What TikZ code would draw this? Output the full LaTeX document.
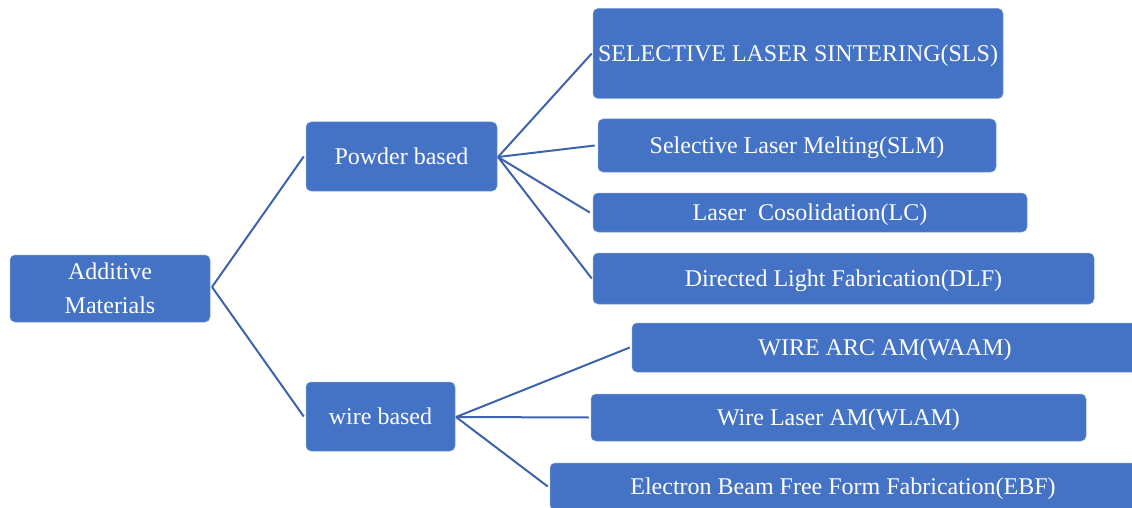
\documentclass[tikz,border=0pt]{standalone}
\usepackage{fontspec}
\setmainfont{Liberation Serif}
\definecolor{boxblue}{HTML}{4472C4}
\definecolor{edgeblue}{HTML}{7E9ED8}
\definecolor{linkblue}{HTML}{3D63AE}
\begin{document}
\begin{tikzpicture}[x=1pt,y=-1pt,
  box/.style={fill=boxblue, draw=edgeblue, line width=0.5pt, rounded corners=5pt,
    text=white, inner sep=0pt, align=center,
    font=\fontsize{24}{34}\selectfont},
  onebox/.style={box, text height=21pt, text depth=5pt},
  link/.style={draw=linkblue, line width=2pt}]
\useasboundingbox (0,0) rectangle (1132,508);
% nodes
\node[box, minimum width=200pt, minimum height=67pt] (am) at (110,288.5) {Additive\\Materials};
\node[onebox, minimum width=191pt, minimum height=69pt] (pb) at (401.5,156.5) {Powder based};
\node[onebox, minimum width=149pt, minimum height=69pt] (wb) at (380.5,416.5) {wire based};
\node[onebox, minimum width=410pt, minimum height=90pt] (sls) at (798,53.5) {SELECTIVE LASER SINTERING(SLS)};
\node[onebox, minimum width=398pt, minimum height=53pt] (slm) at (797,145.5) {Selective Laser Melting(SLM)};
\node[onebox, minimum width=434pt, minimum height=39pt] (lc) at (810,212.5) {Laser\ \ Cosolidation(LC)};
\node[onebox, minimum width=501pt, minimum height=51pt] (dlf) at (843.5,278.5) {Directed Light Fabrication(DLF)};
\node[onebox, minimum width=506pt, minimum height=49pt] (waam) at (885,347.5) {WIRE ARC AM(WAAM)};
\node[onebox, minimum width=495pt, minimum height=47pt] (wlam) at (838.5,417.5) {Wire Laser AM(WLAM)};
\node[onebox, minimum width=586pt, minimum height=47pt] (ebf) at (843,486.5) {Electron Beam Free Form Fabrication(EBF)};
% junction coordinates
\coordinate (amr) at (212,287);
\coordinate (pbr) at (498,157);
\coordinate (wbr) at (456,417);
\draw[link] (amr) -- ([xshift=-2pt]pb.west);
\draw[link] (amr) -- ([xshift=-2pt]wb.west);
\draw[link] (pbr) -- ([xshift=-1pt]sls.west);
\draw[link] (pbr) -- ([xshift=-3pt]slm.west);
\draw[link] (pbr) -- ([xshift=-3pt]lc.west);
\draw[link] (pbr) -- ([xshift=-1pt]dlf.west);
\draw[link] (wbr) -- ([xshift=-2pt]waam.west);
\draw[link] (wbr) -- ([xshift=-2pt]wlam.west);
\draw[link] (wbr) -- ([xshift=-2pt]ebf.west);
\end{tikzpicture}
\end{document}
